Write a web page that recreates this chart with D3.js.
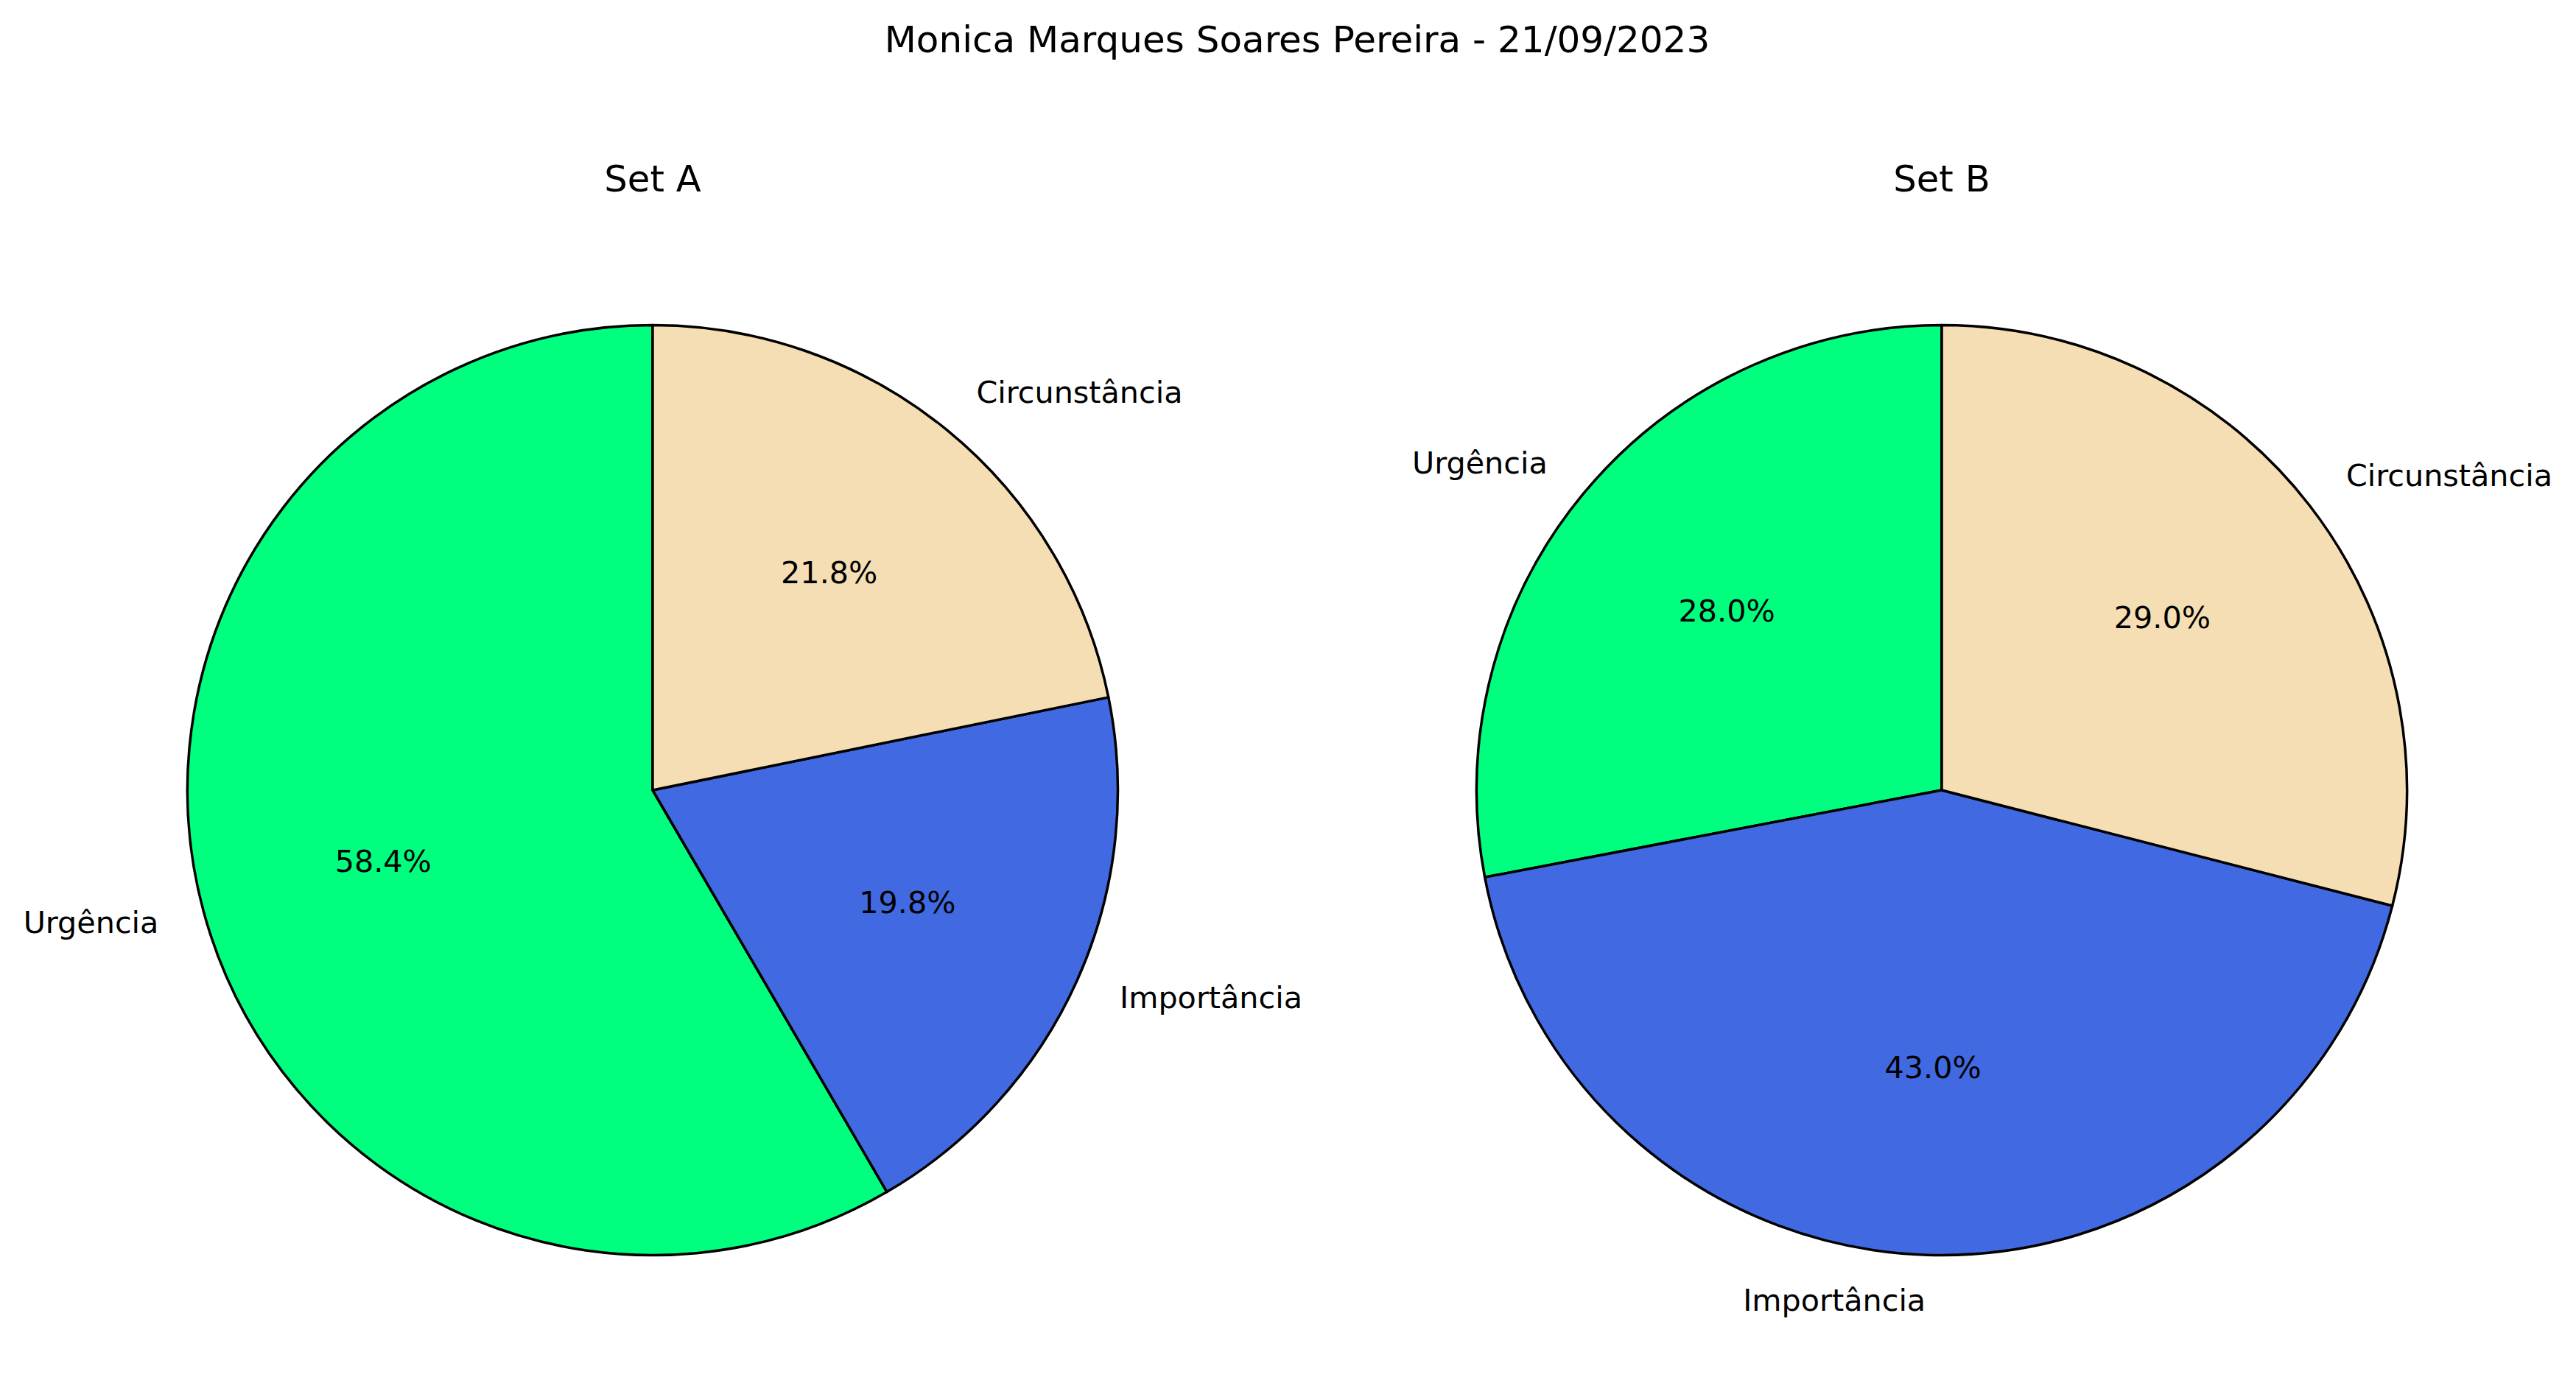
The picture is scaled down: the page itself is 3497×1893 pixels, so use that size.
<!DOCTYPE html>
<html lang="en">
<head>
    <meta charset="UTF-8">
    <title>Set A / Set B</title>
    <script src="https://d3js.org/d3.v7.min.js"></script>
    <style>
        body { margin: 0; background: #fff; }
        text { font-family: "DejaVu Sans", sans-serif; fill: #000; }
    </style>
</head>
<body>
<svg id="chart" width="3497" height="1893"></svg>

<script>
    const chartTitle = "Monica Marques Soares Pereira - 21/09/2023";
    const categories = ["Urgência", "Importância", "Circunstância"];
    const setTitles = ["Set A", "Set B"];
    const setA = [58.4, 19.8, 21.8];
    const setB = [28.0, 43.0, 29.0];
    const sliceColors = ["#00ff7f", "#4169e1", "#f5deb3"];

    const svg = d3.select("#chart");
    const W = 3497, H = 1893;

    // layout (pixels)
    const radius = 631.5;
    const centersX = [886, 2636];
    const centerY = 1073;

    svg.append("rect").attr("width", W).attr("height", H).attr("fill", "#fff");

    svg.append("text")
        .attr("x", 1761)
        .attr("y", 53)
        .attr("text-anchor", "middle")
        .attr("dy", "0.35em")
        .style("font-size", "50px")
        .text(chartTitle);

    const color = d3.scaleOrdinal().domain(categories).range(sliceColors);

    // counter-clockwise from 12 o'clock, like matplotlib startangle=90
    const pie = d3.pie().sort(null).startAngle(0).endAngle(-2 * Math.PI);
    const arc = d3.arc().innerRadius(0).outerRadius(radius);

    function drawPie(values, title, cx) {
        const g = svg.append("g").attr("transform", `translate(${cx},${centerY})`);
        const data = pie(values);
        const total = d3.sum(values);

        g.selectAll("path.slice")
            .data(data)
            .enter()
            .append("path")
            .attr("class", "slice")
            .attr("d", arc)
            .attr("fill", (d, i) => color(categories[i]))
            .attr("stroke", "#000")
            .attr("stroke-width", 3.5)
            .attr("stroke-linejoin", "round");

        // category labels at 1.1 r
        g.selectAll("text.lab")
            .data(data)
            .enter()
            .append("text")
            .attr("class", "lab")
            .each(function (d, i) {
                const m = (d.startAngle + d.endAngle) / 2;
                const x = 1.1 * radius * Math.sin(m);
                const y = -1.1 * radius * Math.cos(m);
                d3.select(this)
                    .attr("x", x)
                    .attr("y", y)
                    .attr("dy", "0.3em")
                    .attr("text-anchor", x < 0 ? "end" : "start")
                    .style("font-size", "41.3px")
                    .text(categories[i]);
            });

        // percentages at 0.6 r
        g.selectAll("text.pct")
            .data(data)
            .enter()
            .append("text")
            .attr("class", "pct")
            .each(function (d) {
                const m = (d.startAngle + d.endAngle) / 2;
                d3.select(this)
                    .attr("x", 0.6 * radius * Math.sin(m))
                    .attr("y", -0.6 * radius * Math.cos(m))
                    .attr("dy", "0.3em")
                    .attr("text-anchor", "middle")
                    .style("font-size", "41.3px")
                    .text(d3.format(".1f")(d.value / total * 100) + "%");
            });

        svg.append("text")
            .attr("x", cx)
            .attr("y", 243)
            .attr("dy", "0.35em")
            .attr("text-anchor", "middle")
            .style("font-size", "49.7px")
            .text(title);
    }

    drawPie(setA, setTitles[0], centersX[0]);
    drawPie(setB, setTitles[1], centersX[1]);
</script>
</body>
</html>
